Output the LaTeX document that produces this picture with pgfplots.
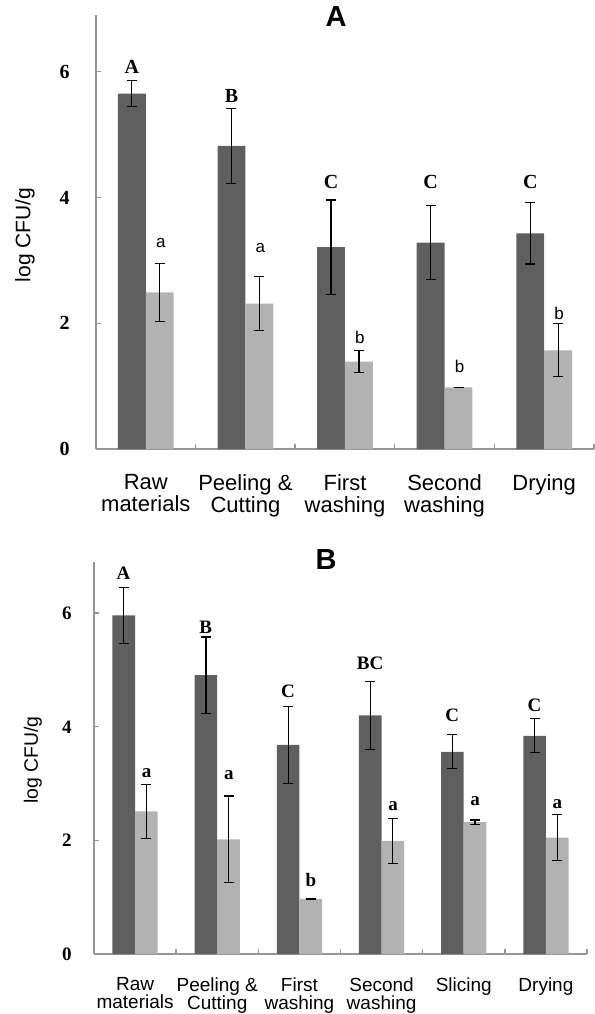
\documentclass[border=0pt]{standalone}
\usepackage{pgfplots}
\pgfplotsset{compat=1.18}
\usepackage{pgfplotstable}
\usepackage{fontspec}
\setmainfont{Liberation Serif}
\newfontfamily\arial{Liberation Sans}
\definecolor{darkbar}{RGB}{95,95,95}
\definecolor{lightbar}{RGB}{178,178,178}
\definecolor{axisgray}{RGB}{150,150,150}

\pgfplotstableread{
x dark darkerr light lighterr
0 5.65 0.21 2.49 0.46
1 4.82 0.60 2.31 0.43
2 3.21 0.75 1.39 0.17
3 3.28 0.59 0.98 0.00
4 3.43 0.49 1.57 0.42
}\dataA

\pgfplotstableread{
x dark darkerr light lighterr
0 5.96 0.49 2.51 0.48
1 4.91 0.67 2.02 0.76
2 3.68 0.68 0.97 0.00
3 4.20 0.60 1.99 0.40
4 3.56 0.30 2.32 0.04
5 3.84 0.30 2.05 0.40
}\dataB

\pgfplotsset{
  panel/.style={
    scale only axis,
    axis x line*=bottom, axis y line*=left,
    axis line style={axisgray, line width=0.7pt, -},
    ymin=0, ymax=6.9,
    ytick={0,2,4,6}, yticklabels={0,2,4,6},
    tick align=inside,
    major tick length=2.5pt,
    tick style={axisgray, line width=0.7pt},
    xticklabels={},
    extra x tick style={major tick length=0pt, tick style={draw=none}},
  },
  errs/.style={error bars/.cd, y dir=both, y explicit,
    error bar style={black, line width=0.6pt},
    error mark options={black, rotate=90, mark size=2.5pt, line width=0.6pt}},
}

\begin{document}
\begin{tikzpicture}
\useasboundingbox (0,0) rectangle (297.5pt,-507pt);

% ---------- Panel A ----------
\begin{axis}[panel,
  at={(48pt,-224.5pt)}, anchor=south west,
  width=249pt, height=217pt,
  xmin=-0.5, xmax=4.5,
  xtick={-0.5,0.5,...,4.5},
  extra x ticks={0,1,2,3,4},
  extra x tick labels={{Raw\\materials},{Peeling \&\\Cutting},{First\\washing},{Second\\washing},{Drying}},
  extra x tick style={xticklabel style={anchor=north, inner sep=0pt, yshift=-12.5pt, align=center, font=\arial\fontsize{11}{11}\selectfont}},
  yticklabel style={font=\bfseries\fontsize{10}{10}\selectfont, anchor=east, inner sep=0pt, xshift=-13pt},
  ylabel={log CFU/g},
  ylabel style={at={(rel axis cs:-0.1426,0.493)}, rotate=0, anchor=center, font=\arial\fontsize{10.5}{10.5}\selectfont},
  title={A},
  title style={at={(rel axis cs:0.482,0.970)}, anchor=center, font=\arial\bfseries\fontsize{14.5}{14.5}\selectfont},
]
\addplot[ybar, bar width=0.28, bar shift=0, fill=darkbar, draw=none, errs]
  table[x expr=\thisrow{x}-0.14, y=dark, y error=darkerr]{\dataA};
\addplot[ybar, bar width=0.28, bar shift=0, fill=lightbar, draw=none, errs]
  table[x expr=\thisrow{x}+0.14, y=light, y error=lighterr]{\dataA};
\begin{scope}[font=\bfseries\fontsize{10}{10}\selectfont]
\node at (axis cs:-0.14,6.07) {A};
\node at (axis cs:0.86,5.62) {B};
\node at (axis cs:1.86,4.24) {C};
\node at (axis cs:2.86,4.24) {C};
\node at (axis cs:3.86,4.24) {C};
\end{scope}
\begin{scope}[font=\arial\fontsize{8.5}{8.5}\selectfont]
\node at (axis cs:0.15,3.28) {a};
\node at (axis cs:1.15,3.20) {a};
\node at (axis cs:2.15,1.78) {b};
\node at (axis cs:3.15,1.32) {b};
\node at (axis cs:4.15,2.16) {b};
\end{scope}
\end{axis}

% ---------- Panel B ----------
\begin{axis}[panel,
  at={(47pt,-477pt)}, anchor=south west,
  width=246.5pt, height=196pt,
  xmin=-0.5, xmax=5.5,
  xtick={-0.5,0.5,...,5.5},
  extra x ticks={0,1,2,3,4,5},
  extra x tick labels={{Raw\\materials},{Peeling \&\\Cutting},{First\\washing},{Second\\washing},{Slicing},{Drying}},
  extra x tick style={xticklabel style={anchor=north, inner sep=0pt, yshift=-11.5pt, align=center, font=\arial\fontsize{9.5}{9}\selectfont}},
  yticklabel style={font=\bfseries\fontsize{9.5}{9.5}\selectfont, anchor=east, inner sep=0pt, xshift=-11pt},
  ylabel={log CFU/g},
  ylabel style={at={(rel axis cs:-0.124,0.495)}, rotate=0, anchor=center, font=\arial\fontsize{9.7}{9.7}\selectfont},
  title={B},
  title style={at={(rel axis cs:0.471,0.977)}, anchor=center, font=\arial\bfseries\fontsize{14.5}{14.5}\selectfont},
]
\addplot[ybar, bar width=0.275, bar shift=0, fill=darkbar, draw=none, errs]
  table[x expr=\thisrow{x}-0.1375, y=dark, y error=darkerr]{\dataB};
\addplot[ybar, bar width=0.275, bar shift=0, fill=lightbar, draw=none, errs]
  table[x expr=\thisrow{x}+0.1375, y=light, y error=lighterr]{\dataB};
\begin{scope}[font=\bfseries\fontsize{9.5}{9.5}\selectfont]
\node at (axis cs:-0.14,6.70) {A};
\node at (axis cs:0.86,5.75) {B};
\node at (axis cs:1.86,4.63) {C};
\node at (axis cs:2.86,5.12) {BC};
\node at (axis cs:3.86,4.21) {C};
\node at (axis cs:4.86,4.37) {C};
\node at (axis cs:0.14,3.18) {a};
\node at (axis cs:1.14,3.15) {a};
\node at (axis cs:2.14,1.31) {b};
\node at (axis cs:3.14,2.61) {a};
\node at (axis cs:4.14,2.69) {a};
\node at (axis cs:5.14,2.63) {a};
\end{scope}
\end{axis}
\end{tikzpicture}
\end{document}
